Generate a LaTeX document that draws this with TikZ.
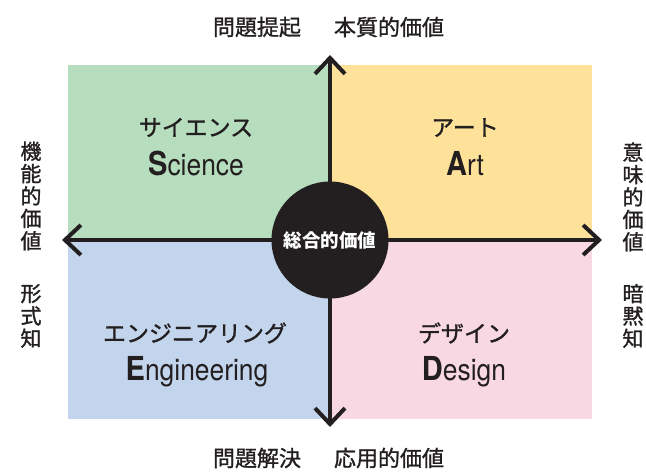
\documentclass[tikz,border=0pt]{standalone}
\usepackage{fontspec}
\usetikzlibrary{arrows.meta}
\newfontfamily\jp[FakeBold=1.2]{Noto Sans CJK JP}
\newfontfamily\jpb{Noto Sans CJK JP}
\newfontfamily\latinf[FakeStretch=0.88]{TeX Gyre Heros}
\definecolor{ink}{HTML}{231F20}
\definecolor{qgreen}{HTML}{B6DDBD}
\definecolor{qorange}{HTML}{FEE29A}
\definecolor{qblue}{HTML}{C3D5EC}
\definecolor{qpink}{HTML}{F8D8E3}
\tikzset{
  axis/.style={line width=4pt, draw=ink, {Straight Barb[length=16pt,width=30pt]}-{Straight Barb[length=16pt,width=30pt]}},
  katakana/.style={text=ink, inner sep=0pt, font=\jp\fontsize{23}{23}\selectfont},
  latin/.style={text=ink, inner sep=0pt, anchor=base, font=\latinf\fontsize{30}{30}\selectfont},
  sidelabel/.style={text=ink, inner sep=0pt, font=\jp\fontsize{22}{22.4}\selectfont},
  vertlabel/.style={text=ink, inner sep=0pt, align=center, font=\jp\fontsize{21}{22.4}\selectfont},
  hub/.style={circle, fill=ink, minimum size=117pt, inner sep=0pt, text=white, font=\jpb\bfseries\fontsize{18.5}{18.5}\selectfont},
}
\newcommand{\bigini}[1]{{\bfseries\fontsize{33}{33}\selectfont #1}}
\begin{document}
\begin{tikzpicture}[x=1pt,y=-1pt]
\useasboundingbox (0,0) rectangle (646,473);
\fill[qgreen]  (68,65) rectangle (330,240);
\fill[qorange] (330,65) rectangle (592,240);
\fill[qblue]   (68,240) rectangle (330,419);
\fill[qpink]   (330,240) rectangle (592,419);
\coordinate (top) at (330,55);
\coordinate (bottom) at (330,427);
\coordinate (left) at (62,240);
\coordinate (right) at (602,240);
\draw[axis] (bottom) -- (top);
\draw[axis] (left) -- (right);
\node[hub] (hub) at (330,240) {総合的価値};
\node[katakana] (sk) at (196,127.5) {サイエンス};
\node[latin] (se) at (196,176) {\bigini{S}cience};
\node[katakana] (ak) at (465,127.5) {アート};
\node[latin] (ae) at (465,176) {\bigini{A}rt};
\node[katakana] (ek) at (195,333) {エンジニアリング};
\node[latin] (ee) at (197,381) {\bigini{E}ngineering};
\node[katakana] (dk) at (464,333) {デザイン};
\node[latin] (de) at (464,381) {\bigini{D}esign};
\node[sidelabel] (t1) at (257,27) {問題提起};
\node[sidelabel] (t2) at (389,27) {本質的価値};
\node[sidelabel] (b1) at (257,458) {問題解決};
\node[sidelabel] (b2) at (389,458) {応用的価値};
\node[vertlabel] (l1) at (31,196) {機\\能\\的\\価\\値};
\node[vertlabel] (l2) at (31,316) {形\\式\\知};
\node[vertlabel] (r1) at (633,197) {意\\味\\的\\価\\値};
\node[vertlabel] (r2) at (633,316) {暗\\黙\\知};
\end{tikzpicture}
\end{document}
